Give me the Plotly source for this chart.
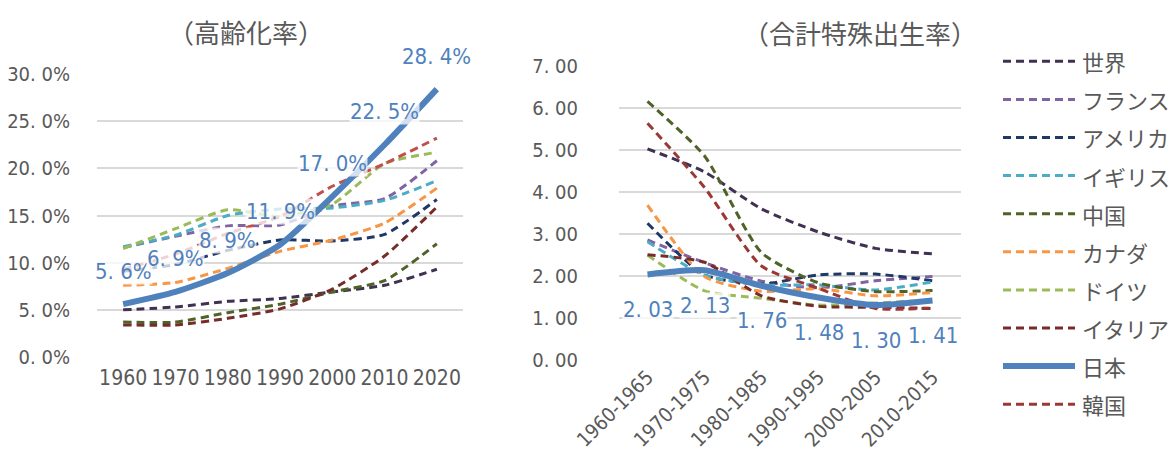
import plotly.graph_objects as go

W, H = 1176, 457

# ---------------- data ----------------
years = ["1960", "1970", "1980", "1990", "2000", "2010", "2020"]
aging_ticks = [0, 5, 10, 15, 20, 25, 30]
aging_ticktext = ["0. 0%", "5. 0%", "10. 0%", "15. 0%", "20. 0%", "25. 0%", "30. 0%"]

aging_world = [5.0, 5.3, 5.9, 6.2, 6.9, 7.6, 9.3]
aging_france = [11.6, 12.8, 13.9, 14.0, 16.0, 16.8, 20.8]
aging_usa = [9.1, 9.8, 11.3, 12.4, 12.3, 13.0, 16.7]
aging_uk = [11.7, 12.9, 15.0, 15.7, 15.8, 16.6, 18.7]
aging_china = [3.7, 3.7, 4.7, 5.6, 6.9, 8.1, 12.0]
aging_canada = [7.6, 7.9, 9.4, 11.2, 12.4, 14.2, 17.9]
aging_germany = [11.5, 13.6, 15.6, 14.9, 16.2, 20.5, 21.7]
aging_italy = [9.3, 10.9, 13.1, 14.9, 18.1, 20.5, 23.2]
aging_japan = [5.6, 6.9, 8.9, 11.9, 17.0, 22.5, 28.4]
aging_korea = [3.4, 3.4, 4.1, 5.1, 7.2, 10.7, 15.9]
aging_japan_labels = ["5. 6%", "6. 9%", "8. 9%", "11. 9%", "17. 0%", "22. 5%", "28. 4%"]

periods = ["1960-1965", "1970-1975", "1980-1985", "1990-1995", "2000-2005", "2010-2015"]
tfr_ticks = [0, 1, 2, 3, 4, 5, 6, 7]
tfr_ticktext = ["0. 00", "1. 00", "2. 00", "3. 00", "4. 00", "5. 00", "6. 00", "7. 00"]

tfr_world = [5.02, 4.47, 3.59, 3.04, 2.65, 2.52]
tfr_france = [2.85, 2.31, 1.87, 1.71, 1.88, 1.98]
tfr_usa = [3.25, 2.02, 1.80, 2.02, 2.04, 1.88]
tfr_uk = [2.81, 2.01, 1.78, 1.78, 1.66, 1.85]
tfr_china = [6.15, 4.85, 2.55, 1.83, 1.62, 1.65]
tfr_canada = [3.68, 1.98, 1.63, 1.69, 1.52, 1.60]
tfr_germany = [2.49, 1.64, 1.46, 1.30, 1.35, 1.42]
tfr_italy = [2.50, 2.32, 1.52, 1.27, 1.25, 1.22]
tfr_japan = [2.03, 2.13, 1.76, 1.48, 1.30, 1.41]
tfr_korea = [5.63, 4.10, 2.23, 1.70, 1.22, 1.23]
tfr_japan_labels = ["2. 03", "2. 13", "1. 76", "1. 48", "1. 30", "1. 41"]

legend_names = ["世界", "フランス", "アメリカ", "イギリス", "中国", "カナダ", "ドイツ", "イタリア", "日本", "韓国"]
legend_colors = ["#403152", "#8064a2", "#1f3864", "#4bacc6", "#4f6228", "#f79646", "#9bbb59", "#772c2a", "#4f81bd", "#9b3835"]

# ---------------- style ----------------
NUM_FONT = "DejaVu Sans Condensed, Liberation Sans Narrow, sans-serif"
JP_FONT = "Noto Sans CJK JP, sans-serif"
GRAY = "#595959"
GRID = "#d9d9d9"
DASH = "8px,5px"


def px_x(p):
    return p / W


def px_y(p):
    return 1 - p / H


fig = go.Figure()

# left chart: aging rate
left_series = [
    ("世界", aging_world, "#403152"),
    ("フランス", aging_france, "#8064a2"),
    ("アメリカ", aging_usa, "#1f3864"),
    ("イギリス", aging_uk, "#4bacc6"),
    ("中国", aging_china, "#4f6228"),
    ("カナダ", aging_canada, "#f79646"),
    ("ドイツ", aging_germany, "#9bbb59"),
    ("イタリア", aging_italy, "#c0504d"),
    ("韓国", aging_korea, "#772c2a"),
]
for name, vals, col in left_series:
    fig.add_trace(go.Scatter(
        x=years, y=vals, name=name, mode="lines", showlegend=False,
        line=dict(color=col, width=3, dash=DASH, shape="spline", smoothing=0.6),
        xaxis="x", yaxis="y"))
fig.add_trace(go.Scatter(
    x=years, y=aging_japan, name="日本", mode="lines", showlegend=False,
    line=dict(color="#4f81bd", width=6, shape="spline", smoothing=0.6),
    xaxis="x", yaxis="y"))

# right chart: total fertility rate
right_series = [
    ("世界", tfr_world, "#403152"),
    ("フランス", tfr_france, "#8064a2"),
    ("アメリカ", tfr_usa, "#1f3864"),
    ("イギリス", tfr_uk, "#4bacc6"),
    ("中国", tfr_china, "#4f6228"),
    ("カナダ", tfr_canada, "#f79646"),
    ("ドイツ", tfr_germany, "#9bbb59"),
    ("イタリア", tfr_italy, "#772c2a"),
    ("韓国", tfr_korea, "#9b3835"),
]
for name, vals, col in right_series:
    fig.add_trace(go.Scatter(
        x=periods, y=vals, name=name, mode="lines", showlegend=False,
        line=dict(color=col, width=3, dash=DASH, shape="spline", smoothing=0.6),
        xaxis="x2", yaxis="y2"))
fig.add_trace(go.Scatter(
    x=periods, y=tfr_japan, name="日本", mode="lines", showlegend=False,
    line=dict(color="#4f81bd", width=6, shape="spline", smoothing=0.6),
    xaxis="x2", yaxis="y2"))

annotations = []
for i, (yv, t) in enumerate(zip(aging_japan, aging_japan_labels)):
    annotations.append(dict(x=i, y=yv, xref="x", yref="y", text=t, showarrow=False,
                            xanchor="center", yanchor="middle",
                            yshift=33, font=dict(family=NUM_FONT, size=22, color="#4f81bd"),
                            bgcolor="rgba(255,255,255,0.75)", borderpad=0))
for i, (yv, t) in enumerate(zip(tfr_japan, tfr_japan_labels)):
    annotations.append(dict(x=i, y=yv, xref="x2", yref="y2", text=t, showarrow=False,
                            xanchor="center", yanchor="middle",
                            yshift=-35, font=dict(family=NUM_FONT, size=22, color="#4f81bd"),
                            bgcolor="rgba(255,255,255,0.75)", borderpad=0))

# titles
annotations.append(dict(x=px_x(238), y=px_y(24), xref="paper", yref="paper", text="（高齢化率）",
                        showarrow=False, xanchor="center", yanchor="middle",
                        font=dict(family=JP_FONT, size=26, color=GRAY)))
annotations.append(dict(x=px_x(852), y=px_y(25), xref="paper", yref="paper", text="（合計特殊出生率）",
                        showarrow=False, xanchor="center", yanchor="middle",
                        font=dict(family=JP_FONT, size=26, color=GRAY)))

# legend (drawn as layout decoration)
shapes = []
leg_top = 53.3
leg_step = 38.1
for i, (nm, col) in enumerate(zip(legend_names, legend_colors)):
    yy = px_y(leg_top + i * leg_step)
    solid = nm == "日本"
    shapes.append(dict(type="line", xref="paper", yref="paper",
                       x0=px_x(995), x1=px_x(1067), y0=yy, y1=yy,
                       line=dict(color=col, width=6 if solid else 3, dash="solid" if solid else DASH)))
    annotations.append(dict(x=px_x(1072), y=yy, xref="paper", yref="paper", text=nm,
                            showarrow=False, xanchor="left", yanchor="middle",
                            font=dict(family=JP_FONT, size=22, color=GRAY)))

fig.update_layout(
    width=W, height=H, autosize=False,
    margin=dict(l=0, r=0, t=0, b=0),
    paper_bgcolor="white", plot_bgcolor="white",
    showlegend=False,
    xaxis=dict(domain=[px_x(89), px_x(455)], type="category", range=[-0.5, 6.5],
               showgrid=False, zeroline=False,
               showline=False, ticks="", tickfont=dict(family=NUM_FONT, size=21, color=GRAY),
               ticklabelstandoff=6, automargin=False, anchor="y"),
    yaxis=dict(domain=[px_y(349), px_y(66)], range=[0, 30], tickvals=aging_ticks, ticktext=aging_ticktext,
               showgrid=True, gridcolor=GRID, gridwidth=1.5, zeroline=False, showline=False,
               tickfont=dict(family=NUM_FONT, size=20, color=GRAY), ticklabelstandoff=26,
               automargin=False, anchor="x"),
    xaxis2=dict(domain=[px_x(611), px_x(953)], type="category", range=[-0.5, 5.5],
                showgrid=False, zeroline=False,
                showline=False, ticks="", tickangle=-45,
                tickfont=dict(family=NUM_FONT, size=20, color=GRAY),
                ticklabelstandoff=1, automargin=False, anchor="y2"),
    yaxis2=dict(domain=[px_y(351.7), px_y(57.7)], range=[0, 7], tickvals=tfr_ticks, ticktext=tfr_ticktext,
                showgrid=True, gridcolor=GRID, gridwidth=1.5, zeroline=False, showline=False,
                tickfont=dict(family=NUM_FONT, size=20, color=GRAY), ticklabelstandoff=40,
                automargin=False, anchor="x2"),
    annotations=annotations,
    shapes=shapes,
)

fig.write_html("out.html")
